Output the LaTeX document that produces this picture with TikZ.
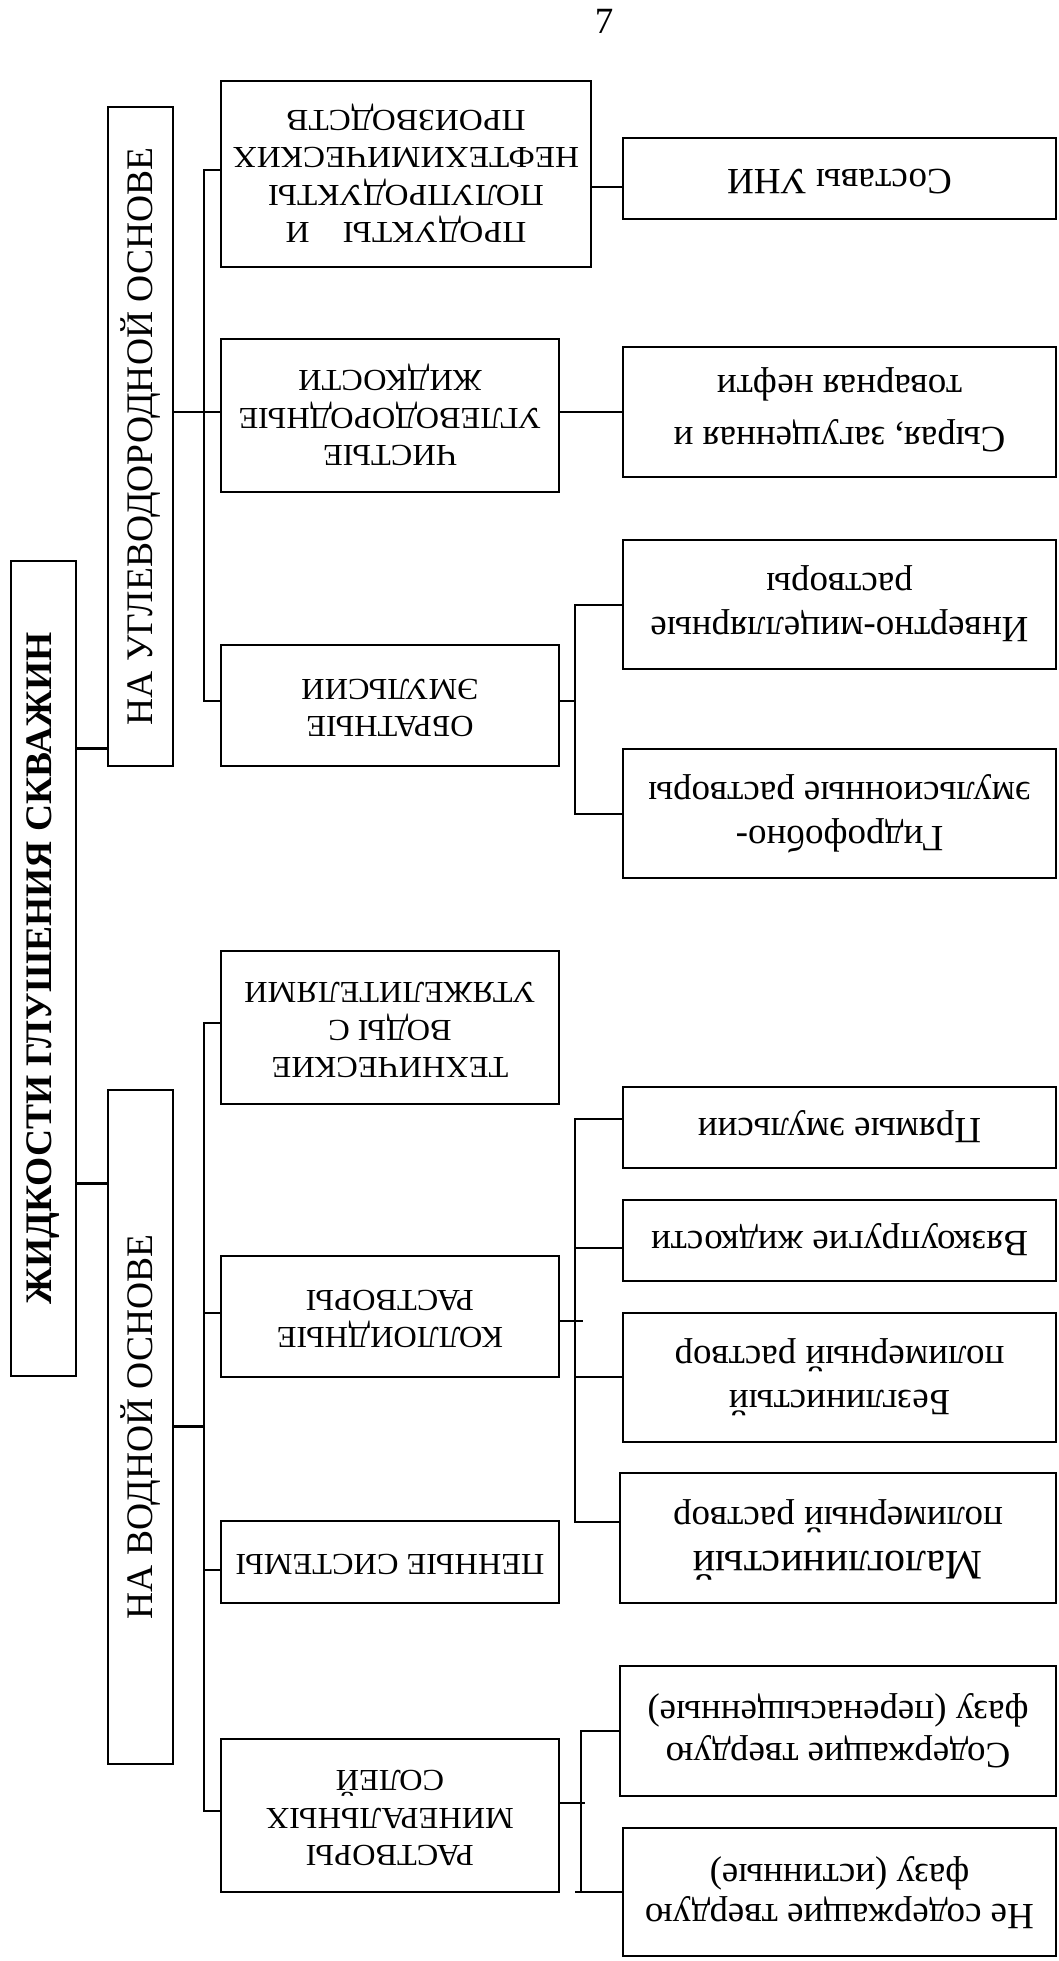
\documentclass[tikz,border=0pt]{standalone}
\usepackage{fontspec}
\setmainfont{Liberation Serif}
\usepackage{graphicx}
\newcommand{\flipt}[1]{\rotatebox[origin=c]{180}{\begin{tabular}{@{}c@{}}#1\end{tabular}}}
\newcommand{\flipw}[2]{\rotatebox[origin=c]{180}{\scalebox{#1}[1]{\begin{tabular}{@{}c@{}}#2\end{tabular}}}}
\newcommand{\upt}[1]{\rotatebox[origin=c]{90}{#1}}
\begin{document}
\begin{tikzpicture}[x=1pt,y=-1pt,
  box/.style={draw, line width=1.6pt, inner sep=0pt, outer sep=0pt},
  lvtwo/.style={box, minimum width=338pt, font=\fontsize{30.5}{37.5}\selectfont},
  lvthree/.style={box, minimum width=433pt, font=\fontsize{37}{44}\selectfont},
  conn/.style={line width=1.5pt},
  bus/.style={line width=1.3pt},
  heavy/.style={line width=3pt},
  heavybus/.style={line width=2.6pt}]
\useasboundingbox (0,0) rectangle (1058,1961);
\node[font=\fontsize{37}{40}\selectfont] (pn) at (604,21) {7};
% left column
\node[box, minimum width=65pt, minimum height=815pt, font=\bfseries\fontsize{37.5}{40}\selectfont] (T) at (43.5,968.5) {\upt{ЖИДКОСТИ ГЛУШЕНИЯ СКВАЖИН}};
\node[box, minimum width=65pt, minimum height=659pt, font=\fontsize{37.5}{40}\selectfont] (U) at (140.5,436.5) {\upt{НА УГЛЕВОДОРОДНОЙ ОСНОВЕ}};
\node[box, minimum width=65pt, minimum height=674pt, font=\fontsize{37.5}{40}\selectfont] (L) at (140.5,1427) {\upt{НА ВОДНОЙ ОСНОВЕ}};
% level 2
\node[lvtwo, minimum width=370pt, minimum height=186pt] (A) at (406,174) {\flipw{1.09}{ПРОДУКТЫ\quad И\\ПОЛУПРОДУКТЫ\\НЕФТЕХИМИЧЕСКИХ\\ПРОИЗВОДСТВ}};
\node[lvtwo, minimum height=153pt] (B) at (390,415.5) {\flipw{1.06}{ЧИСТЫЕ\\УГЛЕВОДОРОДНЫЕ\\ЖИДКОСТИ}};
\node[lvtwo, minimum height=121pt] (C) at (390,705.5) {\flipw{1.06}{ОБРАТНЫЕ\\ЭМУЛЬСИИ}};
\node[lvtwo, minimum height=153pt] (D) at (390,1027.5) {\flipw{1.06}{ТЕХНИЧЕСКИЕ\\ВОДЫ С\\УТЯЖЕЛИТЕЛЯМИ}};
\node[lvtwo, minimum height=121pt] (E) at (390,1316.5) {\flipw{1.06}{КОЛЛОИДНЫЕ\\РАСТВОРЫ}};
\node[lvtwo, minimum height=82pt] (F) at (390,1562) {\flipw{1.06}{ПЕННЫЕ СИСТЕМЫ}};
\node[lvtwo, minimum height=153pt] (G) at (390,1815.5) {\flipw{1.06}{РАСТВОРЫ\\МИНЕРАЛЬНЫХ\\СОЛЕЙ}};
% level 3
\node[lvthree, minimum height=81pt] (S1) at (839.5,178.5) {\flipt{Составы УНИ}};
\node[lvthree, minimum height=130pt, font=\fontsize{37}{52}\selectfont] (S2) at (839.5,412) {\flipt{Сырая, загущенная и\\товарная нефти}};
\node[lvthree, minimum height=129pt] (S3) at (839.5,604.5) {\flipt{Инвертно-мицеллярные\\растворы}};
\node[lvthree, minimum height=129pt] (S4) at (839.5,813.5) {\flipt{Гидрофобно-\\эмульсионные растворы}};
\node[lvthree, minimum height=81pt] (S5) at (839.5,1127.5) {\flipt{Прямые эмульсии}};
\node[lvthree, minimum height=81pt] (S6) at (839.5,1240.5) {\flipt{Вязкоупругие жидкости}};
\node[lvthree, minimum height=129pt] (S7) at (839.5,1377.5) {\flipt{Безглинистый\\полимерный раствор}};
\node[lvthree, minimum width=436pt, minimum height=130pt] (S8) at (838,1538) {\flipt{{\fontsize{42}{44}\selectfont Малоглинистый}\\полимерный раствор}};
\node[lvthree, minimum width=436pt, minimum height=130pt, font=\fontsize{37}{42}\selectfont] (S9) at (838,1731) {\flipt{Содержащие твердую\\фазу (перенасыщенные)}};
\node[lvthree, minimum height=128pt, font=\fontsize{37}{40}\selectfont] (S10) at (839.5,1892) {\flipt{Не содержащие твердую\\фазу (истинные)}};
% connectors: title to groups
\draw[heavy] (T.east |- 0,748) -- (U.west |- 0,748);
\draw[heavy] (T.east |- 0,1183) -- (L.west |- 0,1183);
% upper group
\draw[bus] (U.east |- 0,412) -- (B.west |- 0,412);
\draw[bus] (A.west |- 0,170) -- (204,170) -- (204,701) -- (C.west |- 0,701);
\draw[conn] (A.east |- 0,187) -- (S1.west |- 0,187);
\draw[conn] (B.east |- 0,412) -- (S2.west |- 0,412);
\draw[conn] (C.east |- 0,701) -- (575,701);
\draw[conn] (S3.west |- 0,605) -- (575,605) -- (575,814) -- (S4.west |- 0,814);
% lower group
\draw[heavy] (L.east |- 0,1426) -- (204,1426);
\draw[heavybus] (D.west |- 0,1023) -- (204,1023) -- (204,1811) -- (G.west |- 0,1811);
\draw[conn] (E.west |- 0,1313) -- (204,1313);
\draw[conn] (F.west |- 0,1570) -- (204,1570);
\draw[conn] (E.east |- 0,1321) -- (583,1321);
\draw[conn] (S5.west |- 0,1119) -- (575,1119) -- (575,1522) -- (S8.west |- 0,1522);
\draw[conn] (575,1248) -- (S6.west |- 0,1248);
\draw[conn] (575,1377) -- (S7.west |- 0,1377);
\draw[conn] (G.east |- 0,1803) -- (585,1803);
\draw[conn] (S9.west |- 0,1731) -- (581,1731) -- (581,1892);
\draw[conn] (575,1892) -- (S10.west |- 0,1892);
\end{tikzpicture}
\end{document}
